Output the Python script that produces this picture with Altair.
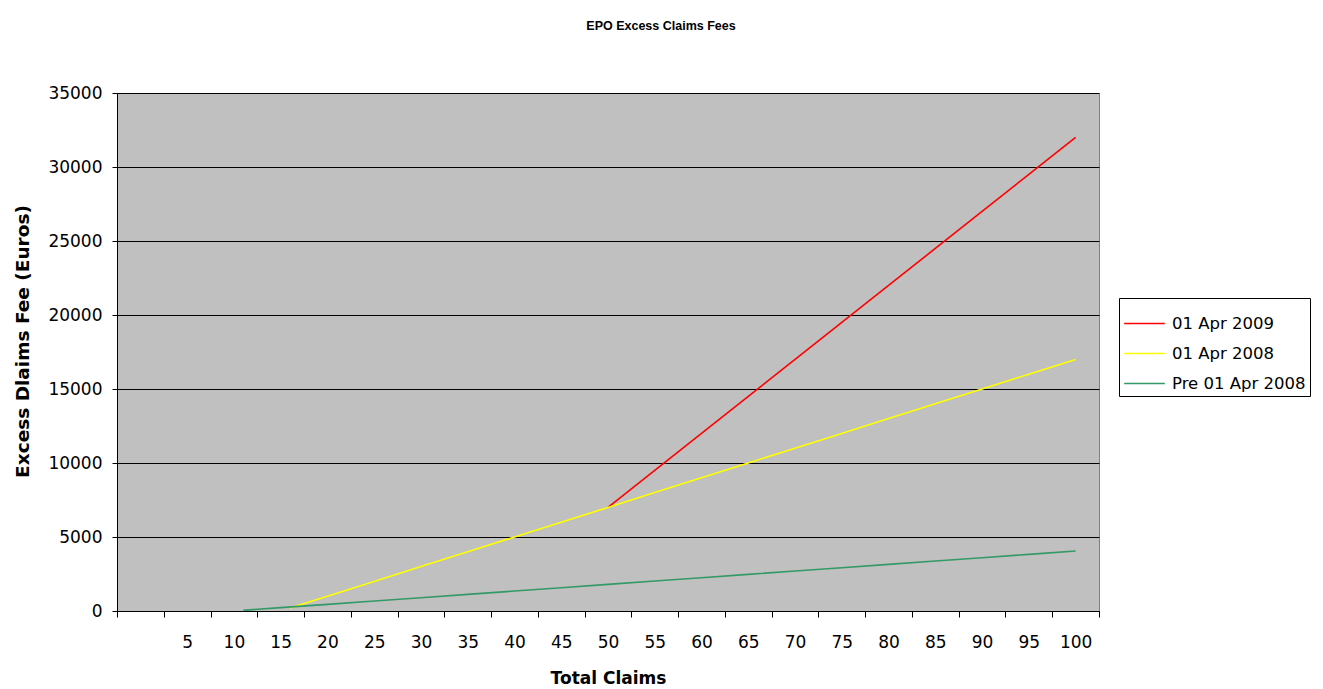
import altair as alt
import pandas as pd

# Data
green_claims = [11, 15, 20, 25, 30, 35, 40, 45, 50, 55, 60, 65, 70, 75, 80, 85, 90, 95, 100]
green_fees = [45, 225, 450, 675, 900, 1125, 1350, 1575, 1800, 2025, 2250, 2475, 2700, 2925, 3150, 3375, 3600, 3825, 4050]

yellow_claims = [16, 20, 25, 30, 35, 40, 45, 50, 55, 60, 65, 70, 75, 80, 85, 90, 95, 100]
yellow_fees = [200, 1000, 2000, 3000, 4000, 5000, 6000, 7000, 8000, 9000, 10000, 11000, 12000, 13000, 14000, 15000, 16000, 17000]

red_claims = [50, 55, 60, 65, 70, 75, 80, 85, 90, 95, 100]
red_fees = [7000, 9500, 12000, 14500, 17000, 19500, 22000, 24500, 27000, 29500, 32000]

series_names = ["01 Apr 2009", "01 Apr 2008", "Pre 01 Apr 2008"]
series_colors = ["#ff0000", "#ffff00", "#339966"]

x_ticks = [-2.5 + 5 * i for i in range(22)]
y_ticks = [0, 5000, 10000, 15000, 20000, 25000, 30000, 35000]

rows = []
for name, xs, ys in [
    (series_names[0], red_claims, red_fees),
    (series_names[1], yellow_claims, yellow_fees),
    (series_names[2], green_claims, green_fees),
]:
    for xv, yv in zip(xs, ys):
        rows.append({"series": name, "claims": xv, "fee": yv})
df = pd.DataFrame(rows)

W, H = 982, 518
FONT = "DejaVu Sans"
TFONT = "Liberation Sans"

chart = (
    alt.Chart(df)
    .mark_line(strokeWidth=1.6)
    .encode(
        x=alt.X(
            "claims:Q",
            scale=alt.Scale(domain=[-2.5, 102.5], nice=False, zero=False),
            axis=alt.Axis(
                values=x_ticks,
                labelExpr="datum.value > 0 && datum.value < 100 ? format(datum.value + 2.5, 'd') : ''",
                labelOffset=W / 105 * 2.5,
                labelFlush=False,
                labelOverlap=False,
                grid=False,
                tickSize=6,
                tickColor="black",
                domainColor="black",
                labelPadding=17,
                labelFont=FONT,
                labelFontSize=17,
                labelColor="black",
                title="Total Claims",
                titleFont=FONT,
                titleFontSize=17,
                titleFontWeight="bold",
                titleColor="black",
                titlePadding=20,
            ),
        ),
        y=alt.Y(
            "fee:Q",
            scale=alt.Scale(domain=[0, 35000], nice=False),
            axis=alt.Axis(
                values=y_ticks,
                format="d",
                grid=True,
                gridColor="black",
                gridWidth=1,
                gridOpacity=1,
                tickSize=5,
                tickColor="black",
                domainColor="black",
                labelPadding=10,
                labelFont=FONT,
                labelFontSize=17,
                labelColor="black",
                title="Excess Dlaims Fee (Euros)",
                titleFont=FONT,
                titleFontSize=18.5,
                titleFontWeight="bold",
                titleColor="black",
                titlePadding=15,
                titleY=248,
            ),
        ),
        color=alt.Color(
            "series:N",
            scale=alt.Scale(domain=series_names, range=series_colors),
            sort=series_names,
            legend=alt.Legend(
                title=None,
                orient="none",
                legendX=1002,
                legendY=205,
                symbolType="stroke",
                symbolSize=1650,
                symbolStrokeWidth=1.6,
                labelFont=FONT,
                labelFontSize=16.5,
                labelColor="black",
                strokeColor="black",
                fillColor="white",
                padding=4,
                rowPadding=0,
                labelOffset=6,
            ),
        ),
    )
    .properties(
        width=W,
        height=H,
        title=alt.TitleParams(
            "EPO Excess Claims Fees",
            font=TFONT,
            fontSize=12.5,
            fontWeight="bold",
            color="black",
            anchor="middle",
            dx=53,
            offset=52,
        ),
        autosize=alt.AutoSizeParams(type="none"),
        padding={"left": 109, "top": 85, "right": 216, "bottom": 78},
        background="white",
    )
    .configure_view(fill="#c0c0c0", stroke="#808080", strokeWidth=1)
)

chart.save("out.html", embed_options={"renderer": "svg", "actions": False})
